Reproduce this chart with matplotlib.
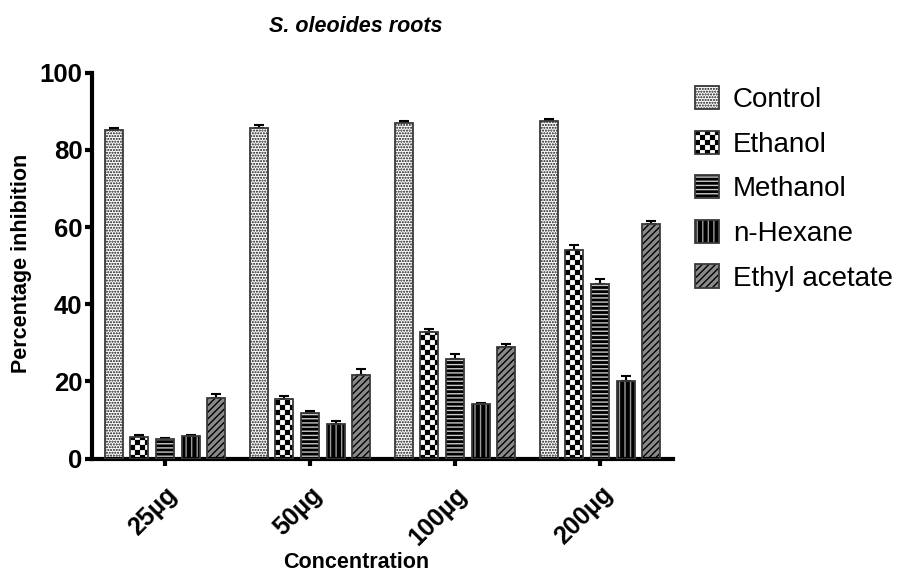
import numpy as np
import matplotlib
matplotlib.use("Agg")
import matplotlib.pyplot as plt
import matplotlib.hatch as mhatch
from matplotlib.path import Path
from matplotlib.patches import Patch
from matplotlib.legend_handler import HandlerTuple

# ---------------- data ----------------
concentrations = ["25µg", "50µg", "100µg", "200µg"]
series = ["Control", "Ethanol", "Methanol", "n-Hexane", "Ethyl acetate"]
control = [85.1, 85.7, 87.0, 87.6]
ethanol = [5.6, 15.3, 32.8, 54.0]
methanol = [5.0, 11.9, 25.9, 45.3]
hexane = [5.9, 8.9, 14.2, 20.0]
ethyl_acetate = [15.8, 21.7, 28.9, 60.9]
control_err = [0.5, 0.7, 0.5, 0.5]
ethanol_err = [0.5, 1.0, 0.7, 1.3]
methanol_err = [0.4, 0.5, 1.1, 1.2]
hexane_err = [0.3, 0.7, 0.3, 1.5]
ethyl_acetate_err = [1.0, 1.5, 0.8, 0.7]


# ---------------- custom checkerboard hatch (replaces '*') ----------------
class CheckerHatch(mhatch.HatchPatternBase):
    def __init__(self, hatch, density):
        self.n = 20 if hatch.count('*') > 0 else 0
        self.cells = [(i, j) for i in range(self.n) for j in range(self.n)
                      if (i + j) % 2 == 0]
        self.num_vertices = len(self.cells) * 5

    def set_vertices_and_codes(self, vertices, codes):
        s = 1.0 / self.n
        shrink = 0.12 * s
        k = 0
        for (i, j) in self.cells:
            x0, y0 = i * s + shrink, j * s + shrink
            x1, y1 = (i + 1) * s - shrink, (j + 1) * s - shrink
            vertices[k:k + 5] = [(x0, y0), (x1, y0), (x1, y1), (x0, y1), (x0, y0)]
            codes[k] = Path.MOVETO
            codes[k + 1:k + 4] = Path.LINETO
            codes[k + 4] = Path.CLOSEPOLY
            k += 5


for idx, ht in enumerate(mhatch._hatch_types):
    if ht is mhatch.Stars:
        mhatch._hatch_types[idx] = CheckerHatch

plt.rcParams['font.family'] = ['Liberation Sans', 'DejaVu Sans']
plt.rcParams['hatch.linewidth'] = 1.0

values = [control, ethanol, methanol, hexane, ethyl_acetate]
errors = [control_err, ethanol_err, methanol_err, hexane_err, ethyl_acetate_err]
# (facecolor, hatchcolor, hatch)
styles = [
    ("white", "#111111", "......"),
    ("white", "black", "*"),
    ("black", "#c8c8c8", "----"),
    ("black", "#9a9a9a", "|||"),
    ("#8a8a8a", "black", "/////"),
]

fig = plt.figure(figsize=(9, 5.72), dpi=100)
ax_left, ax_right = 92, 673
ax = fig.add_axes([ax_left / 900, 1 - 458.5 / 572, (ax_right - ax_left) / 900,
                   (458.5 - 72.7) / 572])

x = np.arange(len(concentrations))
pitch = 0.177
width = 0.124
handles = []
for i, (vals, errs, (fc, hc, hatch)) in enumerate(zip(values, errors, styles)):
    pos = x + (i - 2) * pitch
    ax.bar(pos, vals, width, color=fc, edgecolor=hc, linewidth=0, hatch=hatch, zorder=2)
    ax.bar(pos, vals, width, facecolor="none", edgecolor="#3a3a3a", linewidth=1.3, zorder=3)
    ax.errorbar(pos, vals, yerr=[np.zeros(len(errs)), errs], fmt="none",
                ecolor="black", elinewidth=1.5, capsize=3.5, capthick=1.5, zorder=1)
    h1 = Patch(facecolor=fc, edgecolor=hc, linewidth=0, hatch=hatch)
    h2 = Patch(facecolor="none", edgecolor="#3a3a3a", linewidth=1.3)
    handles.append((h1, h2))

ax.set_xlim(-0.503, 3.503)
ax.set_ylim(0, 100)
ax.set_yticks([0, 20, 40, 60, 80, 100])
ax.set_xticks(x)
ax.set_xticklabels(concentrations, rotation=45, ha="right", va="top",
                   rotation_mode="anchor", fontsize=18, fontweight="bold")
for lab in ax.get_yticklabels():
    lab.set_fontsize(18.5)
    lab.set_fontweight("bold")

for side in ["top", "right"]:
    ax.spines[side].set_visible(False)
for side in ["left", "bottom"]:
    ax.spines[side].set_linewidth(3)
ax.tick_params(axis="both", direction="out", width=3, length=5)
ax.tick_params(axis="y", pad=2)
ax.tick_params(axis="x", pad=12)

fig.text(22 / 900, 1 - 263 / 572, "Percentage inhibition", rotation=90,
         ha="center", va="center", fontsize=15.5, fontweight="bold")
fig.text(356 / 900, 1 - 562 / 572, "Concentration", ha="center", va="center",
         fontsize=15.5, fontweight="bold")
fig.text(356 / 900, 1 - 26 / 572, "S. oleoides roots", ha="center", va="center",
         fontsize=15.5, fontweight="bold", fontstyle="italic")

leg = ax.legend(handles, series, handler_map={tuple: HandlerTuple(ndivide=1, pad=0)},
                loc="upper left", bbox_to_anchor=(695 / 900, 1 - 86 / 572),
                bbox_transform=fig.transFigure, frameon=False, fontsize=20,
                handlelength=0.86, handleheight=0.9, labelspacing=0.63,
                handletextpad=0.5, borderpad=0, borderaxespad=0)

fig.savefig("out.png", dpi=100)
